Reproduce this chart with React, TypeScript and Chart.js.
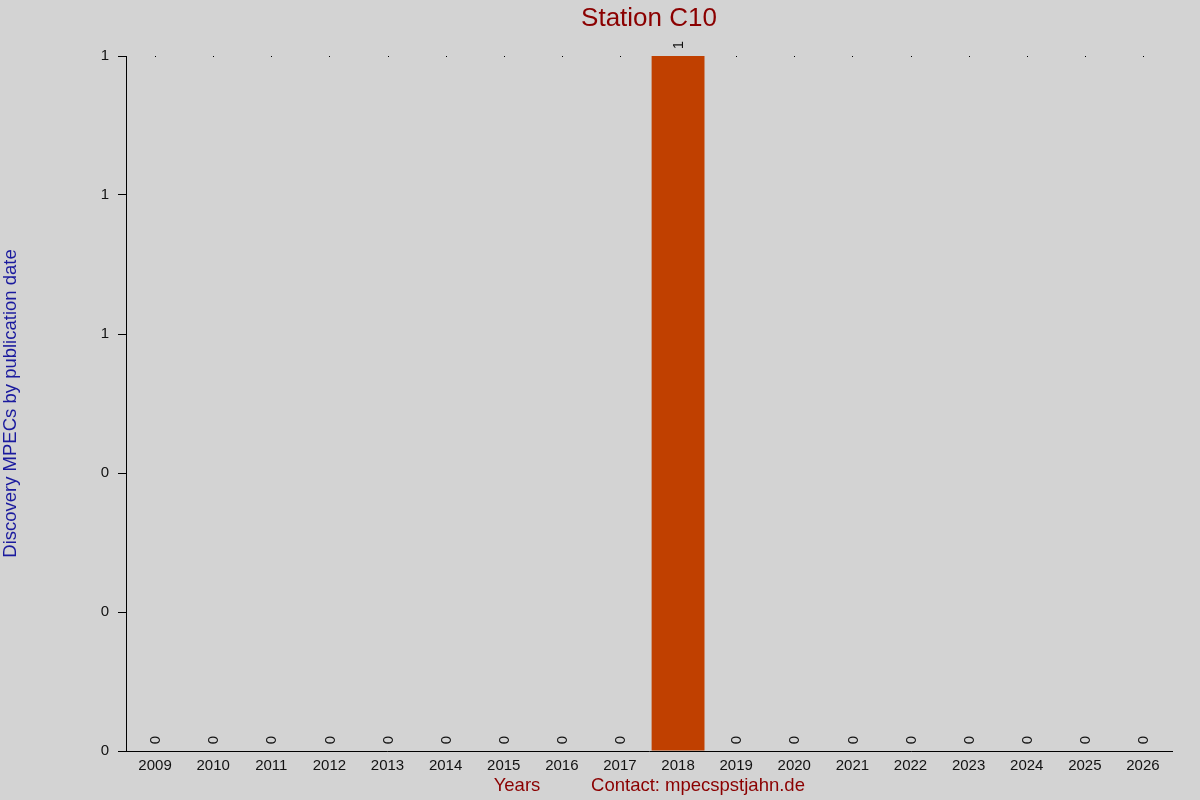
import { useEffect, useRef } from 'react';
import { Chart, registerables } from 'chart.js';

Chart.register(...registerables);

const years = [
  '2009', '2010', '2011', '2012', '2013', '2014', '2015', '2016', '2017',
  '2018', '2019', '2020', '2021', '2022', '2023', '2024', '2025', '2026',
];
const discoveries = [0, 0, 0, 0, 0, 0, 0, 0, 0, 1, 0, 0, 0, 0, 0, 0, 0, 0];

const chartTitle = 'Station C10';
const yTitle = 'Discovery MPECs by publication date';
const xTitle = 'Years';
const contactText = 'Contact: mpecspstjahn.de';

const FONT = 'Arial, "Liberation Sans", sans-serif';

// titles, rotated value labels and the little dots along the top
const decorations = {
  id: 'decorations',
  beforeDatasetsDraw(chart: any) {
    const { ctx, chartArea, scales } = chart;
    ctx.save();
    ctx.fillStyle = '#000';
    years.forEach((_, i) => {
      const x = Math.round(scales.x.getPixelForValue(i));
      ctx.fillRect(x, chartArea.top, 1, 1);
    });
    ctx.restore();
  },
  afterDatasetsDraw(chart: any) {
    const { ctx, chartArea, scales } = chart;
    ctx.save();
    // value labels
    ctx.font = `15px ${FONT}`;
    ctx.fillStyle = '#111';
    ctx.textAlign = 'center';
    ctx.textBaseline = 'middle';
    discoveries.forEach((v, i) => {
      const x = scales.x.getPixelForValue(i);
      const y = scales.y.getPixelForValue(v) - 11;
      ctx.save();
      ctx.translate(x, y);
      ctx.rotate(-Math.PI / 2);
      ctx.fillText(String(v), 0, 1);
      ctx.restore();
    });

    const cx = (chartArea.left + chartArea.right) / 2;
    // title
    ctx.fillStyle = '#8b0000';
    ctx.font = `26px ${FONT}`;
    ctx.fillText(chartTitle, cx, 19);

    // x title + contact
    ctx.font = `18.5px ${FONT}`;
    ctx.fillText(xTitle, 517, 786);
    ctx.fillText(contactText, 698, 786);

    // y title
    ctx.fillStyle = '#1a1a9e';
    ctx.translate(11, (chartArea.top + chartArea.bottom) / 2);
    ctx.rotate(-Math.PI / 2);
    ctx.fillText(yTitle, 0, 0);
    ctx.restore();
  },
};

export default function App() {
  const canvasRef = useRef<HTMLCanvasElement>(null);
  const chartRef = useRef<Chart | null>(null);

  useEffect(() => {
    document.body.style.margin = '0';
    document.body.style.background = '#d3d3d3';
    if (!canvasRef.current) return;
    if (chartRef.current) {
      chartRef.current.destroy();
      chartRef.current = null;
    }
    const ctx = canvasRef.current.getContext('2d');
    if (!ctx) return;

    chartRef.current = new Chart(ctx, {
      type: 'bar',
      data: {
        labels: years,
        datasets: [
          {
            label: 'Discoveries',
            data: discoveries,
            backgroundColor: '#c04000',
            borderWidth: 0,
            barPercentage: 0.91,
            categoryPercentage: 1,
          },
        ],
      },
      options: {
        responsive: true,
        maintainAspectRatio: false,
        animation: false,
        layout: { padding: { top: 56, right: 28, left: 0, bottom: 0 } },
        plugins: {
          legend: { display: false },
          tooltip: { enabled: false },
          title: { display: false },
        },
        scales: {
          x: {
            grid: { display: true, drawOnChartArea: false, drawTicks: false },
            border: { display: true, color: '#000', width: 1 },
            ticks: {
              color: '#111',
              font: { family: FONT, size: 15 },
              padding: 6,
              maxRotation: 0,
              autoSkip: false,
            },
            afterFit: (scale: any) => {
              scale.height = 49;
            },
          },
          y: {
            min: 0,
            max: 1,
            grid: {
              display: true,
              drawOnChartArea: false,
              drawTicks: true,
              tickLength: 8,
              color: '#000',
            },
            border: { display: true, color: '#000', width: 1 },
            ticks: {
              stepSize: 0.2,
              color: '#111',
              font: { family: FONT, size: 15 },
              padding: 9,
              callback: (v: any) => String(Math.round(Number(v))),
            },
            afterFit: (scale: any) => {
              scale.width = 126;
            },
          },
        },
      },
      plugins: [decorations],
    });

    return () => {
      if (chartRef.current) {
        chartRef.current.destroy();
        chartRef.current = null;
      }
    };
  }, []);

  return (
    <div style={{ width: 1200, height: 800, position: 'relative', background: '#d3d3d3' }}>
      <canvas ref={canvasRef} />
    </div>
  );
}
